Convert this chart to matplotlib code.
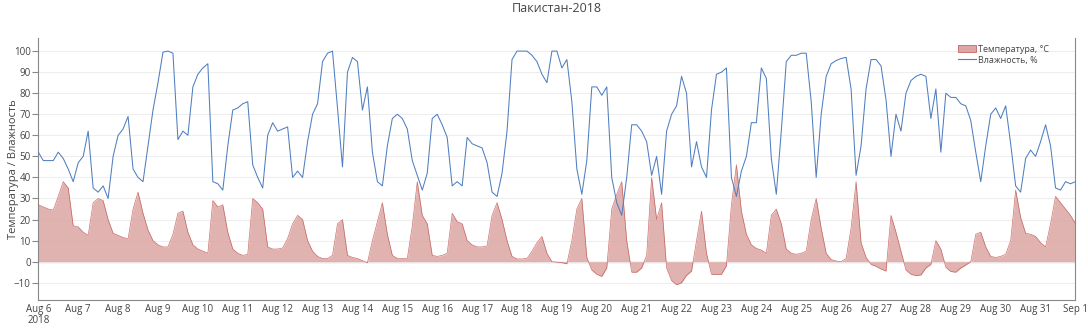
import matplotlib
matplotlib.use("Agg")
import matplotlib.pyplot as plt
from matplotlib.patches import Patch
from matplotlib.lines import Line2D
import pandas as pd

plt.rcParams['font.family'] = ['Open Sans', 'DejaVu Sans']

# 3-hourly readings (00,03,...,21h) per day, Aug 6 .. Aug 31, plus Sep 1 00h
temp_by_day = {
    "Aug 6":  [27, 26, 25, 24.5, 31, 38, 35, 17],
    "Aug 7":  [16.5, 14, 12.5, 28, 30, 29, 20, 13.5],
    "Aug 8":  [12.5, 11.5, 10.8, 25, 33, 23, 15, 10],
    "Aug 9":  [8, 7, 7, 13, 23, 24, 14, 8],
    "Aug 10": [6, 5, 4, 29, 26, 27, 14, 6],
    "Aug 11": [4, 3, 3.5, 30, 28, 25, 7, 6],
    "Aug 12": [6, 6.5, 11, 18, 22, 20, 10, 5],
    "Aug 13": [2.5, 1.5, 1.5, 3, 18, 20, 3, 2],
    "Aug 14": [1.5, 0.5, -0.5, 10, 19, 28, 13, 3],
    "Aug 15": [1.5, 1.5, 1.5, 17, 38, 22, 18, 3],
    "Aug 16": [2.5, 3, 4, 23, 19, 18, 10, 8],
    "Aug 17": [7, 7, 7.5, 22, 28, 20, 10, 2.5],
    "Aug 18": [1.3, 1.3, 1.5, 5, 9, 12, 4, 0],
    "Aug 19": [-0.2, -0.5, -1, 10, 25, 30, 2, -4],
    "Aug 20": [-6, -7, -3, 25, 32, 38, 10, -5],
    "Aug 21": [-5, -3, 3, 40, 20, 28, -3, -9],
    "Aug 22": [-11, -10, -6.5, -4.5, 10, 24, 4, -6],
    "Aug 23": [-6, -6, -2, 27, 46, 24, 13, 8],
    "Aug 24": [6.3, 5.5, 4, 22, 25, 18, 6, 4],
    "Aug 25": [3.5, 4, 5, 20, 30, 16, 4, 1],
    "Aug 26": [0.3, 0, 1.5, 16, 38, 9, 2, -1.3],
    "Aug 27": [-2.2, -3.5, -4.5, 22, 14, 5, -4, -6],
    "Aug 28": [-6.6, -6.3, -3, -1.3, 10, 6, -2.7, -4.7],
    "Aug 29": [-5, -3, -1.6, 0, 13, 14, 7, 2.5],
    "Aug 30": [2, 2.5, 3.5, 10, 34, 21, 13.5, 13],
    "Aug 31": [12, 9, 7, 18, 31, 28, 25, 22],
}
temp_last = [18]

hum_by_day = {
    "Aug 6":  [52, 48, 48, 48, 52, 49, 44, 38],
    "Aug 7":  [47, 50, 62, 35, 33, 36, 30, 50],
    "Aug 8":  [60, 63, 69, 44, 40, 38, 55, 72],
    "Aug 9":  [85, 99.5, 100, 99, 58, 62, 60, 83],
    "Aug 10": [89, 92, 94, 38, 37, 34, 55, 72],
    "Aug 11": [73, 75, 76, 46, 40, 35, 60, 66],
    "Aug 12": [62, 63, 64, 40, 43, 40, 57, 70],
    "Aug 13": [75, 95, 99, 100, 73, 45, 90, 97],
    "Aug 14": [95, 72, 83, 52, 38, 36, 55, 68],
    "Aug 15": [70, 68, 63, 48, 41, 34, 42, 68],
    "Aug 16": [70, 65, 59, 36, 38, 36, 59, 56],
    "Aug 17": [55, 54, 47, 33, 31, 42, 62, 96],
    "Aug 18": [100, 100, 100, 98, 95, 89, 85, 100],
    "Aug 19": [100, 92, 96, 76, 44, 32, 48, 83],
    "Aug 20": [83, 79, 83, 40, 28, 22, 40, 65],
    "Aug 21": [65, 62, 57, 41, 50, 32, 62, 70],
    "Aug 22": [74, 88, 80, 45, 57, 45, 40, 72],
    "Aug 23": [89, 90, 92, 40, 31, 43, 50, 66],
    "Aug 24": [66, 92, 87, 49, 32, 62, 95, 98],
    "Aug 25": [98, 99, 99, 76, 40, 70, 88, 94],
    "Aug 26": [95.5, 96.5, 97, 82, 41, 55, 82, 96],
    "Aug 27": [96, 93, 77, 50, 70, 62, 80, 86],
    "Aug 28": [88, 89, 88, 68, 82, 52, 80, 78],
    "Aug 29": [78, 75, 74, 67, 52, 38, 55, 70],
    "Aug 30": [73, 68, 74, 56, 36, 33, 49, 53],
    "Aug 31": [50, 57, 65, 55, 35, 34, 38, 37],
}
hum_last = [38]

temperature = [v for d in temp_by_day.values() for v in d] + temp_last
humidity = [v for d in hum_by_day.values() for v in d] + hum_last
times = pd.date_range("2018-08-06 00:00", periods=len(temperature), freq="3h")

day_ticks = pd.date_range("2018-08-06", "2018-09-01", freq="D")
tick_labels = ["Aug 6\n2018"] + [f"Aug {d.day}" for d in day_ticks[1:-1]] + ["Sep 1"]
y_ticks = [-10, 0, 10, 20, 30, 40, 50, 60, 70, 80, 90, 100]

title = "Пакистан-2018"
ylabel = "Температура / Влажность"
temp_label = "Температура, °C"
hum_label = "Влажность, %"

fill_color = "#dba6a3"
temp_line = "#c0504d"
hum_color = "#4f7fc0"
text_color = "#444444"
grid_color = "#eeeeee"

fig = plt.figure(figsize=(10.88, 3.28), dpi=100)
ax = fig.add_axes([0.0347, 0.0854, 0.9538, 0.7986])

ax.fill_between(times, temperature, 0, color=fill_color, alpha=0.85, linewidth=0, zorder=2)
ax.plot(times, temperature, color=temp_line, linewidth=0.5, alpha=0.8, zorder=3)
ax.plot(times, humidity, color=hum_color, linewidth=0.75, zorder=4)

ax.set_xlim(pd.Timestamp("2018-08-05 23:40"), pd.Timestamp("2018-09-01 00:00"))
ax.set_ylim(-18.2, 106.2)
ax.set_yticks(y_ticks)
ax.set_xticks(day_ticks)
ax.set_xticklabels(tick_labels, linespacing=1.0)

ax.grid(axis="y", color=grid_color, linewidth=0.8, zorder=0)
ax.axhline(0, color="#444444", linewidth=0.8, zorder=1)

ax.spines["top"].set_visible(False)
for s in ["left", "bottom", "right"]:
    ax.spines[s].set_color("#888888")
    ax.spines[s].set_linewidth(0.8)

ax.tick_params(axis="y", labelsize=7, colors="#888888", labelcolor=text_color, length=4, width=0.8, pad=1)
ax.tick_params(axis="x", labelsize=7, colors="#888888", labelcolor=text_color, length=0, pad=3)

ax.set_ylabel(ylabel, fontsize=8, color=text_color)
ax.yaxis.set_label_coords(-0.0185, 0.5)
fig.text(0.512, 0.995, title, ha="center", va="top", fontsize=9, color=text_color)

handles = [Patch(facecolor=fill_color, edgecolor=temp_line, linewidth=0.5, label=temp_label),
           Line2D([0], [0], color=hum_color, linewidth=0.8, label=hum_label)]
leg = ax.legend(handles=handles, loc="upper right", bbox_to_anchor=(0.98, 0.995), frameon=False,
                fontsize=6.5, handlelength=2.0, handleheight=0.7, handletextpad=0.3,
                labelspacing=0.2, borderaxespad=0.2)
for t in leg.get_texts():
    t.set_color(text_color)

fig.savefig("out.png", dpi=100)
